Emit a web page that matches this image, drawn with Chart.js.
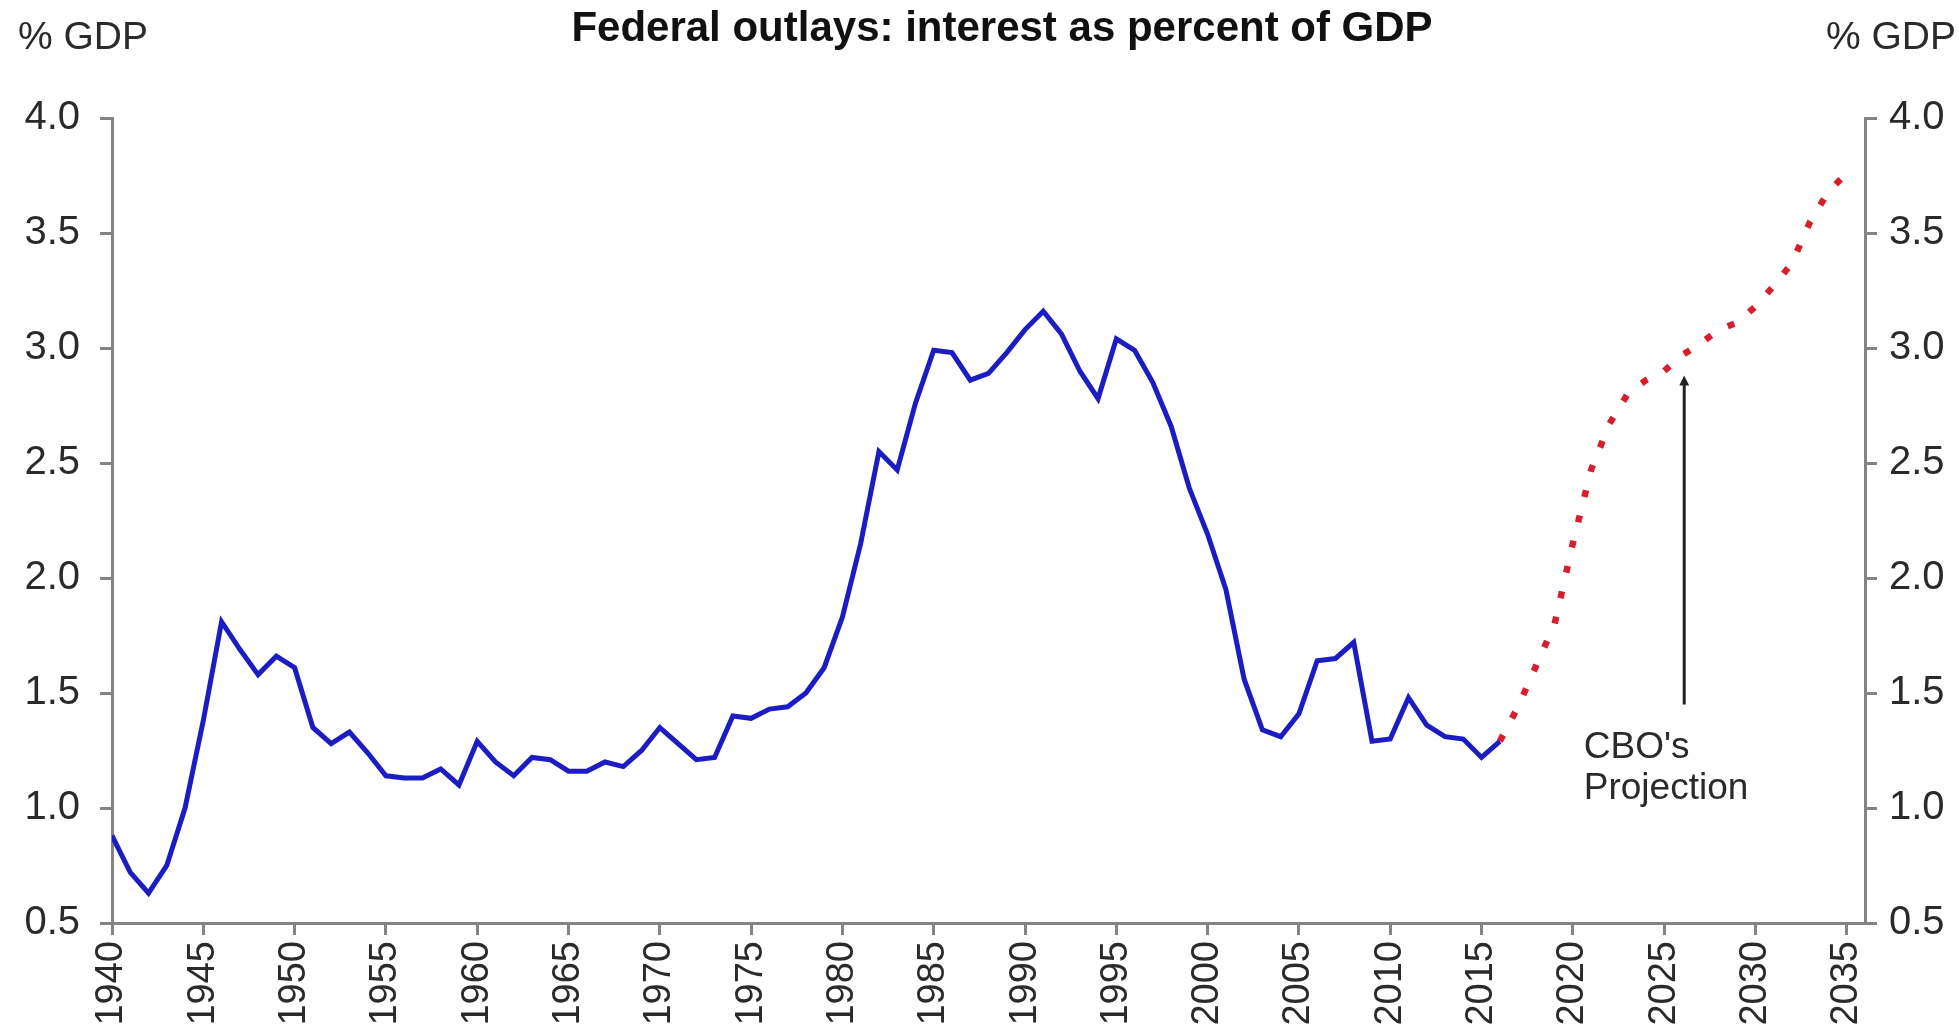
<!DOCTYPE html>
<html>
<head>
<meta charset="utf-8">
<script src="https://cdn.jsdelivr.net/npm/chart.js@4.4.1/dist/chart.umd.min.js"></script>
<style>
    html, body { margin: 0; padding: 0; background: #fff; }
    #grafico { display: block; }
</style>
</head>
<body>
<canvas id="grafico" width="1959" height="1034"></canvas>
<script>
// Dados (juros federais, % do PIB)
const anosHistorico = [
    1940, 1941, 1942, 1943, 1944, 1945, 1946, 1947, 1948, 1949,
    1950, 1951, 1952, 1953, 1954, 1955, 1956, 1957, 1958, 1959,
    1960, 1961, 1962, 1963, 1964, 1965, 1966, 1967, 1968, 1969,
    1970, 1971, 1972, 1973, 1974, 1975, 1976, 1977, 1978, 1979,
    1980, 1981, 1982, 1983, 1984, 1985, 1986, 1987, 1988, 1989,
    1990, 1991, 1992, 1993, 1994, 1995, 1996, 1997, 1998, 1999,
    2000, 2001, 2002, 2003, 2004, 2005, 2006, 2007, 2008, 2009,
    2010, 2011, 2012, 2013, 2014, 2015, 2016
];
const jurosHistorico = [
    0.88, 0.72, 0.63, 0.75, 1.00, 1.38, 1.81, 1.69, 1.58, 1.66,
    1.61, 1.35, 1.28, 1.33, 1.24, 1.14, 1.13, 1.13, 1.17, 1.10,
    1.29, 1.20, 1.14, 1.22, 1.21, 1.16, 1.16, 1.20, 1.18, 1.25,
    1.35, 1.28, 1.21, 1.22, 1.40, 1.39, 1.43, 1.44, 1.50, 1.61,
    1.83, 2.15, 2.55, 2.47, 2.76, 2.99, 2.98, 2.86, 2.89, 2.98,
    3.08, 3.16, 3.06, 2.90, 2.78, 3.04, 2.99, 2.85, 2.66, 2.39,
    2.19, 1.95, 1.56, 1.34, 1.31, 1.41, 1.64, 1.65, 1.72, 1.29,
    1.30, 1.48, 1.36, 1.31, 1.30, 1.22, 1.29
];
const anosProjecao = [
    2016, 2017, 2018, 2019, 2020, 2021, 2022, 2023, 2024, 2025,
    2026, 2027, 2028, 2029, 2030, 2031, 2032, 2033, 2034, 2035
];
const jurosProjecao = [
    1.29, 1.44, 1.62, 1.80, 2.15, 2.47, 2.67, 2.80, 2.86, 2.90,
    2.97, 3.02, 3.08, 3.11, 3.18, 3.27, 3.37, 3.55, 3.68, 3.76
];
const ticksAnos = [
    1940, 1945, 1950, 1955, 1960, 1965, 1970, 1975, 1980, 1985,
    1990, 1995, 2000, 2005, 2010, 2015, 2020, 2025, 2030, 2035
];
const ticksPib = [0.5, 1.0, 1.5, 2.0, 2.5, 3.0, 3.5, 4.0];

const titulo = 'Federal outlays: interest as percent of GDP';
const rotuloEixo = '% GDP';
const rotuloSeta = ["CBO's", 'Projection'];

const FONTE = '"Liberation Sans", Arial, sans-serif';
const CINZA = '#848484';
const TEXTO = '#2a2a2a';

function pontos(xs, ys) {
    return xs.map((x, i) => ({ x: x, y: ys[i] }));
}

// Título, rótulos "% GDP" e a seta do CBO
const textosPlugin = {
    id: 'textos',
    afterDraw(chart) {
        const ctx = chart.ctx;
        const sx = chart.scales.x;
        const sy = chart.scales.y;
        ctx.save();

        ctx.font = 'bold 42px ' + FONTE;
        ctx.fillStyle = '#111';
        ctx.textAlign = 'center';
        ctx.textBaseline = 'middle';
        ctx.fillText(titulo, 1002, 29);

        ctx.font = '39px ' + FONTE;
        ctx.fillStyle = TEXTO;
        ctx.textAlign = 'left';
        ctx.fillText(rotuloEixo, 18, 38);
        ctx.textAlign = 'right';
        ctx.fillText(rotuloEixo, 1956, 38);

        // seta
        const xs = sx.getPixelForValue(2026.1);
        const yBase = sy.getPixelForValue(1.45);
        const yPonta = sy.getPixelForValue(2.88);
        ctx.strokeStyle = '#222';
        ctx.fillStyle = '#222';
        ctx.lineWidth = 3;
        ctx.beginPath();
        ctx.moveTo(xs, yBase);
        ctx.lineTo(xs, yPonta + 8);
        ctx.stroke();
        ctx.beginPath();
        ctx.moveTo(xs, yPonta);
        ctx.lineTo(xs - 5, yPonta + 10);
        ctx.lineTo(xs + 5, yPonta + 10);
        ctx.closePath();
        ctx.fill();

        ctx.font = '37px ' + FONTE;
        ctx.fillStyle = TEXTO;
        ctx.textAlign = 'left';
        ctx.fillText(rotuloSeta[0], sx.getPixelForValue(2020.6), sy.getPixelForValue(1.26));
        ctx.fillText(rotuloSeta[1], sx.getPixelForValue(2020.6), sy.getPixelForValue(1.085));

        ctx.restore();
    }
};

function eixoY(posicao, largura, espaco) {
    return {
        type: 'linear',
        position: posicao,
        min: 0.5,
        max: 4.0,
        afterBuildTicks: s => { s.ticks = ticksPib.map(v => ({ value: v })); },
        afterFit: s => { s.width = largura; },
        ticks: {
            font: { family: FONTE, size: 40 },
            color: TEXTO,
            padding: espaco,
            callback: v => v.toFixed(1)
        },
        grid: {
            drawOnChartArea: false,
            drawTicks: true,
            tickLength: 12,
            color: CINZA,
            lineWidth: 3
        },
        border: { display: true, color: CINZA, width: 3 }
    };
}

const grafico = new Chart(document.getElementById('grafico'), {
    type: 'line',
    data: {
        datasets: [{
            label: 'Interest',
            data: pontos(anosHistorico, jurosHistorico),
            borderColor: '#1c1cc4',
            borderWidth: 5,
            pointRadius: 0,
            tension: 0,
            yAxisID: 'y'
        }, {
            label: "CBO's Projection",
            data: pontos(anosProjecao, jurosProjecao),
            borderColor: '#d81e2c',
            borderWidth: 6.5,
            borderDash: [7, 19],
            borderCapStyle: 'butt',
            pointRadius: 0,
            tension: 0,
            yAxisID: 'y'
        }]
    },
    options: {
        responsive: false,
        animation: false,
        layout: { padding: { top: 118, left: 0, right: 0, bottom: 0 } },
        plugins: {
            legend: { display: false },
            title: { display: false },
            tooltip: { enabled: false }
        },
        scales: {
            x: {
                type: 'linear',
                position: 'bottom',
                min: 1940,
                max: 2036,
                afterBuildTicks: s => { s.ticks = ticksAnos.map(v => ({ value: v })); },
                afterFit: s => { s.height = 111; },
                ticks: {
                    font: { family: FONTE, size: 38 },
                    color: TEXTO,
                    minRotation: 90,
                    maxRotation: 90,
                    autoSkip: false,
                    padding: 6,
                    callback: v => String(v)
                },
                grid: {
                    drawOnChartArea: false,
                    drawTicks: true,
                    tickLength: 12,
                    color: CINZA,
                    lineWidth: 3
                },
                border: { display: true, color: CINZA, width: 3 }
            },
            y: eixoY('left', 112, 20),
            y2: eixoY('right', 94, 12)
        }
    },
    plugins: [textosPlugin]
});
</script>
</body>
</html>
